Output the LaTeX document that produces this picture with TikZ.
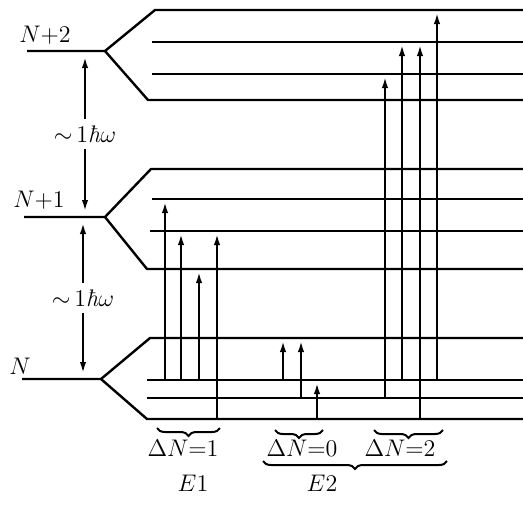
\documentclass[tikz,border=0pt]{standalone}
\usepackage{tikz}
\usetikzlibrary{arrows.meta, positioning, calc, decorations.pathreplacing}

\begin{document}
\begin{tikzpicture}[x=0.5pt, y=-0.5pt,
    level/.style={line width=1.2pt, line join=round},
    trans/.style={line width=1pt, -{Latex[length=5.5pt,width=3.2pt]}, shorten >=1.5pt},
    gap/.style={line width=1pt, -{Latex[length=5.5pt,width=3.2pt]}, shorten >=3pt},
    cbrace/.style={decorate, decoration={brace, mirror, amplitude=4pt}, line width=1pt},
    lbl/.style={font=\large, inner sep=1pt}]

    \useasboundingbox (0,0) rectangle (523,510);
    \coordinate (xr) at (523,0);

    % the three shells, each split into four sublevels
    \foreach \k/\vx/\vy/\lx/\ya/\yb/\yc/\yd/\xa/\xb/\xc/\xd in {
        2/105/51/27/10/42/74/100/155/152/152/148,
        1/105/217/24/169/199/231/269/151/152/150/147,
        0/101/379/22/338/380/398/419/150/147/147/147}{
        \coordinate (v\k) at (\vx,\vy);
        \coordinate (s\k) at (\lx,\vy);
        \coordinate (top\k) at (\xa,\ya);
        \coordinate (hi\k) at (\xb,\yb);
        \coordinate (low\k) at (\xc,\yc);
        \coordinate (bot\k) at (\xd,\yd);
        \draw[level] (s\k) -- (v\k) -- (top\k) -- (top\k -| xr);
        \draw[level] (v\k) -- (bot\k) -- (bot\k -| xr);
        \draw[level] (hi\k) -- (hi\k -| xr);
        \draw[level] (low\k) -- (low\k -| xr);
    }

    \node[lbl] (lN2) at (45,35) {$N{+}2$};
    \node[lbl] (lN1) at (39,200) {$N{+}1$};
    \node[lbl] (lN0) at (20,366) {$N$};

    % shell spacing
    \node[lbl, inner sep=3pt] (hw2) at (85,134) {$\sim$\,1\textit{ħ}$\omega$};
    \draw[gap] (hw2.north) -- (hw2.north |- v2);
    \draw[gap] (hw2.south) -- (hw2.south |- v1);
    \node[lbl, inner sep=3pt] (hw1) at (83,298) {$\sim$\,1\textit{ħ}$\omega$};
    \draw[gap] (hw1.north) -- (hw1.north |- v1);
    \draw[gap] (hw1.south) -- (hw1.south |- v0);

    % transitions
    \foreach \c/\x in {1/165,2/181,3/199,4/217,5/283,6/301,7/317,8/385,9/402,10/420,11/437}
        \coordinate (c\c) at (\x,0);
    \foreach \c/\from/\to in {1/hi0/hi1, 2/hi0/low1, 3/hi0/bot1, 4/bot0/low1,
                              5/hi0/top0, 6/low0/top0, 7/bot0/hi0,
                              8/low0/low2, 9/hi0/hi2, 10/bot0/hi2, 11/hi0/top2}
        \draw[trans] (c\c |- \from) -- (c\c |- \to);

    % groupings
    \coordinate (b1l) at (157,428); \coordinate (b1r) at (220,428);
    \coordinate (b0l) at (275,430); \coordinate (b0r) at (323,430);
    \coordinate (b2l) at (374,430); \coordinate (b2r) at (443,430);
    \coordinate (bel) at (263,461); \coordinate (ber) at (447,461);
    \draw[cbrace] (b1l) -- (b1r);
    \draw[cbrace] (b0l) -- (b0r);
    \draw[cbrace] (b2l) -- (b2r);
    \draw[cbrace] (bel) -- (ber);

    \node[lbl] (dn1) at (183,448) {$\Delta N{=}1$};
    \node[lbl] (dn0) at (302,448) {$\Delta N{=}0$};
    \node[lbl] (dn2) at (400,448) {$\Delta N{=}2$};
    \node[lbl] (e1) at (193,483) {$E1$};
    \node[lbl] (e2) at (322,483) {$E2$};
\end{tikzpicture}
\end{document}
